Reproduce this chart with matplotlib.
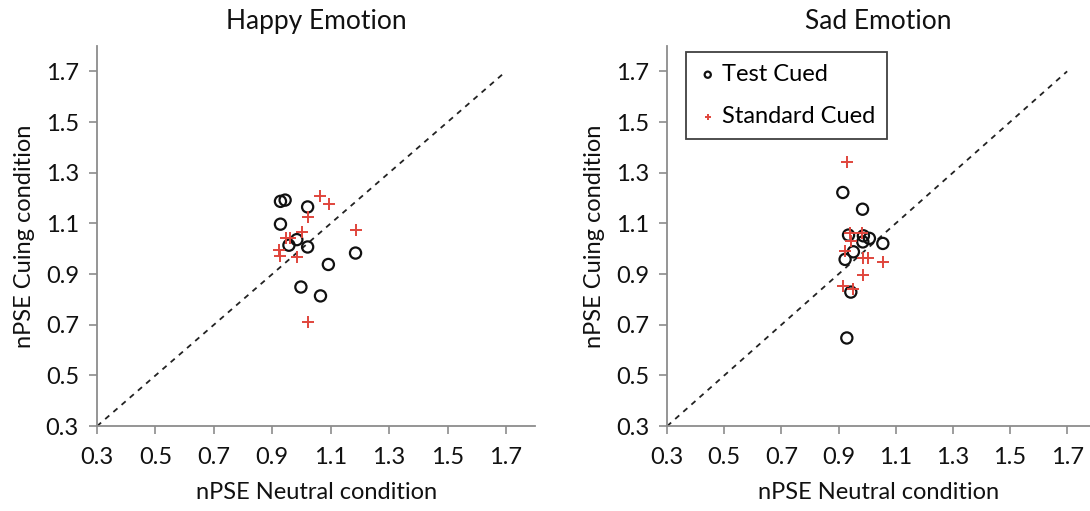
import matplotlib
matplotlib.use("Agg")
import matplotlib.pyplot as plt

# Happy emotion: (neutral, cuing) nPSE
happy_test_x = [0.928, 0.944, 1.021, 0.928, 0.984, 0.957, 1.021, 1.185, 1.092, 0.998, 1.065]
happy_test_y = [1.187, 1.192, 1.165, 1.097, 1.036, 1.014, 1.007, 0.983, 0.938, 0.849, 0.814]
happy_std_x = [1.064, 1.095, 1.021, 1.001, 0.946, 0.960, 1.185, 0.924, 0.928, 0.984, 1.021]
happy_std_y = [1.208, 1.175, 1.125, 1.066, 1.044, 1.044, 1.073, 0.994, 0.970, 0.968, 0.711]

# Sad emotion
sad_test_x = [0.915, 0.984, 0.935, 0.987, 1.008, 0.985, 1.055, 0.952, 0.923, 0.943, 0.929]
sad_test_y = [1.222, 1.156, 1.054, 1.051, 1.041, 1.027, 1.021, 0.988, 0.958, 0.829, 0.648]
sad_std_x = [0.929, 0.941, 0.983, 0.944, 0.923, 0.986, 1.004, 1.056, 0.984, 0.916, 0.951]
sad_std_y = [1.342, 1.062, 1.062, 1.030, 0.990, 0.963, 0.963, 0.947, 0.895, 0.854, 0.840]

ticks = [0.3, 0.5, 0.7, 0.9, 1.1, 1.3, 1.5, 1.7]
tick_labels = ["0.3", "0.5", "0.7", "0.9", "1.1", "1.3", "1.5", "1.7"]

plt.rcParams["font.family"] = ["Lato", "DejaVu Sans"]

fig = plt.figure(figsize=(10.9, 5.11), dpi=100)
ax_happy = fig.add_axes([0.089, 0.166, 0.402, 0.744])
ax_sad = fig.add_axes([0.612, 0.166, 0.388, 0.744])

RED = "#e0453c"
GRAY = "#8c8c8c"
INK = "#111111"


def style_axes(ax, xmax, title):
    ax.plot([0.3, 1.7], [0.3, 1.7], ls=(0, (3, 3)), color="#222222", lw=1.3, zorder=1)
    ax.set_xlim(0.3, xmax)
    ax.set_ylim(0.3, 1.8)
    ax.set_xticks(ticks)
    ax.set_xticklabels(tick_labels)
    ax.set_yticks(ticks)
    ax.set_yticklabels(tick_labels)
    for side in ("top", "right"):
        ax.spines[side].set_visible(False)
    for side in ("left", "bottom"):
        ax.spines[side].set_color(GRAY)
        ax.spines[side].set_linewidth(1.3)
    ax.tick_params(direction="out", length=6, width=1.2, color=GRAY,
                   labelsize=17, pad=7, labelcolor=INK)
    ax.tick_params(axis="x", pad=9)
    ax.set_title(title, fontsize=19, pad=12, color=INK)
    ax.set_xlabel("nPSE Neutral condition", fontsize=17, labelpad=10, color=INK)
    ax.set_ylabel("nPSE Cuing condition", fontsize=17, labelpad=8, color=INK)


ax_happy.scatter(happy_test_x, happy_test_y, s=65, facecolors="none",
                 edgecolors=INK, linewidths=1.6, zorder=3)
ax_happy.scatter(happy_std_x, happy_std_y, s=80, marker="+", color=RED,
                 linewidths=1.4, zorder=3)
style_axes(ax_happy, 1.8, "Happy Emotion")

ax_sad.scatter(sad_test_x, sad_test_y, s=65, facecolors="none",
               edgecolors=INK, linewidths=1.6, zorder=3, label="Test Cued")
ax_sad.scatter(sad_std_x, sad_std_y, s=80, marker="+", color=RED,
               linewidths=1.4, zorder=3, label="Standard Cued")
style_axes(ax_sad, 1.78, "Sad Emotion")

leg = ax_sad.legend(loc="upper left", bbox_to_anchor=(0.018, 1.015), fontsize=17,
                    frameon=True, fancybox=False, edgecolor=INK,
                    markerscale=0.55, handletextpad=0.2, handlelength=0.8,
                    borderpad=0.5, labelspacing=0.9)
leg.get_frame().set_linewidth(1.3)

fig.savefig("out.png", dpi=100)
